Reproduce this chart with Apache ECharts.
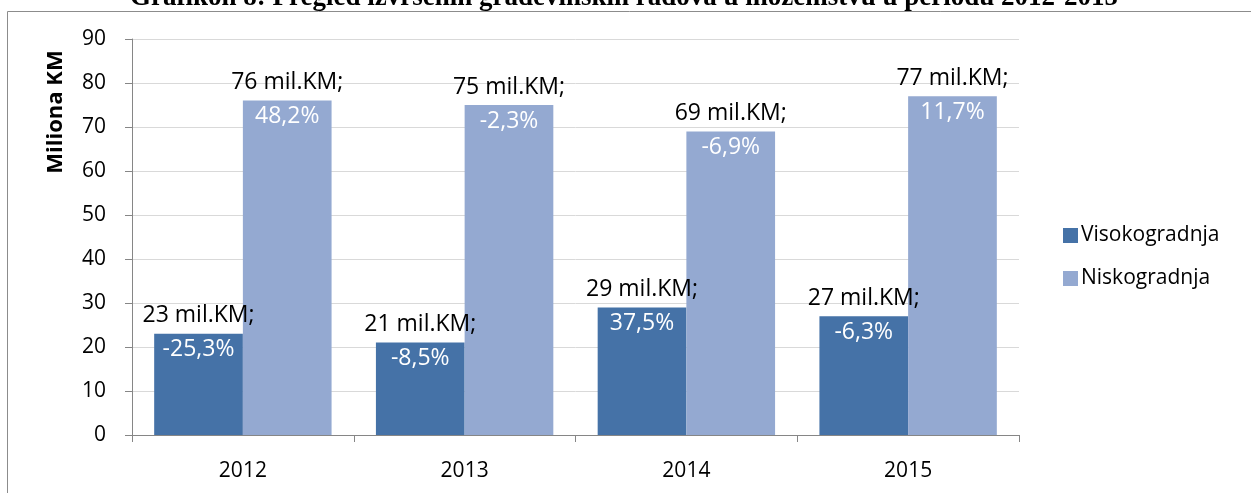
<!DOCTYPE html>
<html>
<head>
<meta charset="utf-8">
<script src="https://cdn.jsdelivr.net/npm/echarts@6/dist/echarts.min.js"></script>
<style>
  html, body { margin: 0; padding: 0; background: #fff; }
  #chart { width: 1251px; height: 493px; }
</style>
</head>
<body>
<div id="chart"></div>
<script>
const years = ['2012', '2013', '2014', '2015']
const seriesNames = ['Visokogradnja', 'Niskogradnja']
const visokogradnja = [23, 21, 29, 27]
const niskogradnja = [76, 75, 69, 77]
const visokoChange = ['-25,3%', '-8,5%', '37,5%', '-6,3%']
const niskoChange = ['48,2%', '-2,3%', '-6,9%', '11,7%']
const yTicks = { min: 0, max: 90, interval: 10 }

const font = 'Open Sans'

const chart = echarts.init(document.getElementById('chart'))

// value label sits above the bar, the change label just inside its top
const makeLabel = (changes) => ({
  show: true,
  position: ['50%', -35],
  align: 'center',
  verticalAlign: 'top',
  formatter: (p) => '{a|' + p.value + ' mil.KM;}\n{b|' + changes[p.dataIndex] + '}',
  rich: {
    a: { color: '#000', fontSize: 23, fontFamily: font, lineHeight: 34 },
    b: { color: '#fff', fontSize: 23, fontFamily: font, lineHeight: 34 }
  }
})

chart.setOption({
  animation: false,
  textStyle: { fontFamily: font },
  graphic: [
    {
      type: 'rect',
      shape: { x: 7.5, y: 11.5, width: 1400, height: 700 },
      style: { fill: 'none', stroke: '#8c8c8c', lineWidth: 1 },
      silent: true
    },
    {
      type: 'text',
      x: 624, y: 12,
      style: {
        text: 'Grafikon 8: Pregled izvršenih građevinskih radova u inozemstvu u periodu 2012-2015',
        font: 'bold 27px "Liberation Serif"',
        fill: '#000',
        align: 'center',
        verticalAlign: 'bottom'
      },
      silent: true
    },
    {
      type: 'text',
      x: 56, y: 112,
      rotation: Math.PI / 2,
      style: {
        text: 'Miliona KM',
        font: 'bold 22px "Open Sans"',
        fill: '#000',
        align: 'center',
        verticalAlign: 'middle'
      },
      silent: true
    }
  ],
  legend: {
    orient: 'vertical',
    left: 1058,
    top: 220,
    itemWidth: 15,
    itemHeight: 15,
    itemGap: 22,
    icon: 'rect',
    data: seriesNames,
    textStyle: { fontSize: 21, fontFamily: font, color: '#000', padding: [0, 0, 0, -2] }
  },
  grid: { left: 132, right: 232, top: 39, bottom: 58 },
  xAxis: {
    type: 'category',
    data: years,
    axisLine: { lineStyle: { color: '#868686', width: 1 } },
    axisTick: { show: true, length: 7, lineStyle: { color: '#868686' } },
    axisLabel: { color: '#000', fontSize: 21, fontFamily: font, margin: 26 }
  },
  yAxis: {
    type: 'value',
    min: yTicks.min,
    max: yTicks.max,
    interval: yTicks.interval,
    axisLine: { show: true, lineStyle: { color: '#868686', width: 1 } },
    axisTick: { show: true, length: 7, lineStyle: { color: '#868686' } },
    axisLabel: { color: '#000', fontSize: 21, fontFamily: font, margin: 26 },
    splitLine: { lineStyle: { color: '#d9d9d9', width: 1 } }
  },
  series: [
    {
      name: seriesNames[0],
      type: 'bar',
      data: visokogradnja,
      barGap: '0%',
      barCategoryGap: '20%',
      itemStyle: { color: '#4572a7' },
      label: makeLabel(visokoChange)
    },
    {
      name: seriesNames[1],
      type: 'bar',
      data: niskogradnja,
      barGap: '0%',
      barCategoryGap: '20%',
      itemStyle: { color: '#94a9d1' },
      label: makeLabel(niskoChange)
    }
  ]
})
</script>
</body>
</html>
